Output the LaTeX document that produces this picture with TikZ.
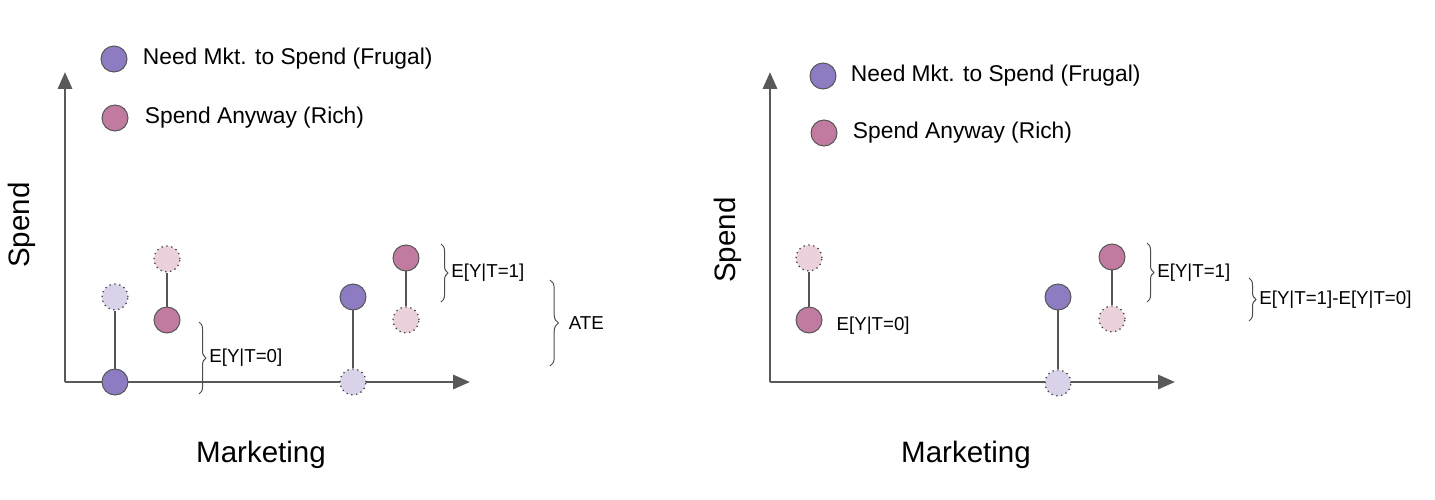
\documentclass[tikz,border=0pt]{standalone}
\usepackage{fontspec}
\setmainfont{Liberation Sans}
\usepackage{tikz}
\usetikzlibrary{arrows.meta}
\usetikzlibrary{decorations.pathreplacing}
\usepackage{xcolor}
\definecolor{axisgray}{HTML}{595959}
\definecolor{edgegray}{HTML}{555555}
\definecolor{frugalc}{HTML}{8E7CC3}
\definecolor{frugallt}{HTML}{D9D2E9}
\definecolor{richc}{HTML}{C27BA0}
\definecolor{richlt}{HTML}{EAD1DC}
\tikzset{
    dot/.style={circle, inner sep=0pt, minimum size=0.65cm, draw=edgegray, line width=0.7pt},
    frugal/.style={dot, fill=frugalc},
    rich/.style={dot, fill=richc},
    frugalcf/.style={dot, fill=frugallt, draw=black!75, line width=0.9pt, dash pattern=on 0.9pt off 2.6pt},
    richcf/.style={dot, fill=richlt, draw=black!75, line width=0.9pt, dash pattern=on 0.9pt off 2.6pt},
    axis/.style={axisgray, line width=2pt, -{Triangle[length=12pt,width=10pt]}},
    stem/.style={edgegray, line width=0.8pt},
    bracket/.style={decorate, decoration={brace, amplitude=5pt}, draw=black!70, line width=0.7pt},
    legendtext/.style={anchor=west, font=\fontsize{16.2}{19}\selectfont},
    bracetext/.style={anchor=west, inner sep=1pt, text=black, font=\fontsize{13.3}{16}\selectfont},
    axislabel/.style={font=\fontsize{21}{25}\selectfont}
}
\begin{document}
\begin{tikzpicture}[x=0.025cm, y=-0.025cm]
    \useasboundingbox (0,0) rectangle (1435,500);
    %left panel: ATE
    \begin{scope}
    \coordinate (lorg) at (65,382);
    \coordinate (lxend) at (470,382);
    \coordinate (lyend) at (65,72);
    \draw[axis] (lorg) -- (lxend);
    \draw[axis] (lorg) -- (lyend);
    \node[axislabel, rotate=90] (lspend) at (22,225) {Spend};
    \node[axislabel] (lmkt) at (261,455) {Marketing};

    \node[frugal] (lkeyf) at (114,59) {};
    \node[legendtext] (lkeyftext) at (138,59) {Need Mkt. to Spend (Frugal)};
    \node[rich] (lkeyr) at (115,118) {};
    \node[legendtext] (lkeyrtext) at (140,118) {Spend Anyway (Rich)};

    \node[frugalcf] (lf1) at (115,297) {};
    \node[frugal] (lf0) at (115,382) {};
    \node[richcf] (lr1) at (167,259) {};
    \node[rich] (lr0) at (167,320) {};
    \node[frugal] (rf1) at (353,297) {};
    \node[frugalcf] (rf0) at (353,382) {};
    \node[rich] (rr1) at (406,258) {};
    \node[richcf] (rr0) at (406,320) {};
    \draw[stem] (lf0) -- (lf1);
    \draw[stem] (lr0) -- (lr1);
    \draw[stem] (rf1) -- (rf0);
    \draw[stem] (rr1) -- (rr0);

    \coordinate (ea) at (199,322);
    \coordinate (eb) at (199,394);
    \draw[bracket] (ea) -- (eb) node[midway, xshift=6pt, bracetext] (ezero) {E[Y|T=0]};
    \coordinate (fa) at (441,244);
    \coordinate (fb) at (441,302);
    \draw[bracket] (fa) -- (fb) node[midway, xshift=6pt, bracetext] (eone) {E[Y|T=1]};
    \coordinate (ga) at (550,280);
    \coordinate (gb) at (550,366);
    \draw[bracket, decoration={amplitude=6pt}] (ga) -- (gb) node[midway, xshift=12pt, bracetext] (ate) {ATE};
    \end{scope}

    %right panel: naive difference
    \begin{scope}
    \coordinate (rorg) at (770,382);
    \coordinate (rxend) at (1175,382);
    \coordinate (ryend) at (770,72);
    \draw[axis] (rorg) -- (rxend);
    \draw[axis] (rorg) -- (ryend);
    \node[axislabel, rotate=90] (rspend) at (728,240) {Spend};
    \node[axislabel] (rmkt) at (966,455) {Marketing};

    \node[frugal] (rkeyf) at (823,76) {};
    \node[legendtext] (rkeyftext) at (846,76) {Need Mkt. to Spend (Frugal)};
    \node[rich] (rkeyr) at (824,133) {};
    \node[legendtext] (rkeyrtext) at (848,133) {Spend Anyway (Rich)};

    \node[richcf] (sr1) at (809,258) {};
    \node[rich] (sr0) at (809,320) {};
    \node[frugal] (tf1) at (1058,297) {};
    \node[frugalcf] (tf0) at (1058,383) {};
    \node[rich] (tr1) at (1112,257) {};
    \node[richcf] (tr0) at (1112,319) {};
    \draw[stem] (sr0) -- (sr1);
    \draw[stem] (tf1) -- (tf0);
    \draw[stem] (tr1) -- (tr0);
    \node[bracetext] (szero) at (835,326) {E[Y|T=0]};

    \coordinate (ha) at (1147,243);
    \coordinate (hb) at (1147,302);
    \draw[bracket] (ha) -- (hb) node[midway, xshift=6pt, bracetext] (sone) {E[Y|T=1]};
    \coordinate (ka) at (1249,278);
    \coordinate (kb) at (1249,321);
    \draw[bracket] (ka) -- (kb) node[midway, xshift=6pt, bracetext] (sdiff) {E[Y|T=1]-E[Y|T=0]};
    \end{scope}
\end{tikzpicture}
\end{document}
